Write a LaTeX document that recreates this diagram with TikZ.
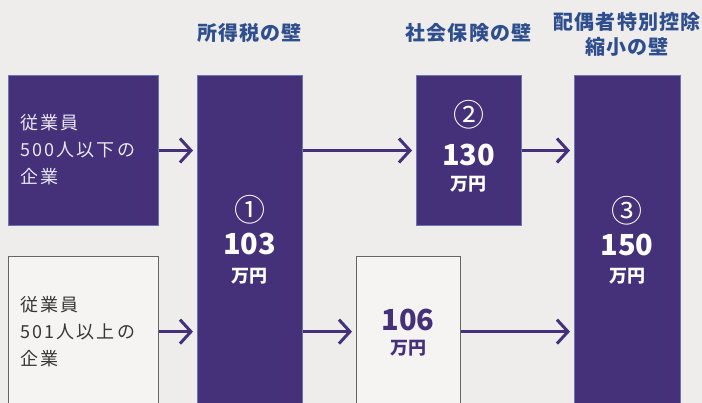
\documentclass[tikz,border=0pt]{standalone}
\usepackage{fontspec}
\setmainfont{Noto Sans CJK JP}
\usetikzlibrary{arrows.meta}
\definecolor{bg}{HTML}{EEEDEC}
\definecolor{purp}{HTML}{45307A}
\definecolor{purpedge}{HTML}{6E74B0}
\definecolor{paper}{HTML}{F5F4F2}
\definecolor{grayedge}{HTML}{666666}
\definecolor{hdrblue}{HTML}{2F4E8E}
\definecolor{lighttxt}{HTML}{E8E6EF}
\definecolor{darktxt}{HTML}{383838}
\tikzset{
  purpbox/.style={draw=purpedge, line width=1pt, fill=purp, inner sep=0pt, anchor=north west},
  paperbox/.style={draw=grayedge, line width=1.3pt, fill=paper, inner sep=0pt, anchor=north west},
  hdr/.style={text=hdrblue, font=\fontsize{20}{25}\selectfont\bfseries\addfontfeature{LetterSpace=6}, align=center, inner sep=0pt},
  boxtxt/.style={font=\fontsize{18}{27}\selectfont\addfontfeature{LetterSpace=12}, align=left, anchor=west, inner sep=0pt},
  circnum/.style={text=white, font=\fontsize{31}{31}\selectfont, inner sep=0pt},
  bignum/.style={font=\fontsize{29}{29}\selectfont\bfseries, inner sep=0pt},
  unit/.style={font=\fontsize{18}{18}\selectfont\bfseries, inner sep=0pt},
  arr/.style={draw=purp, line width=3pt, shorten >=4pt, -{Straight Barb[length=11pt,width=24pt]}}
}
\begin{document}
\begin{tikzpicture}[x=1pt,y=-1pt]
\useasboundingbox (0,0) rectangle (702,403);
\clip (0,0) rectangle (702,403);
\fill[bg] (0,0) rectangle (702,403);
% headers
\node[hdr] (h1) at (249.5,33) {所得税の壁};
\node[hdr] (h2) at (468.5,33) {社会保険の壁};
\node[hdr] (h3) at (627,34) {配偶者特別控除\\縮小の壁};
% boxes
\node[purpbox, minimum width=150pt, minimum height=150pt] (b1) at (8,75) {};
\node[paperbox, minimum width=150pt, minimum height=150pt] (b2) at (8,256) {};
\node[purpbox, minimum width=105pt, minimum height=345pt] (c1) at (197,75) {};
\node[purpbox, minimum width=105pt, minimum height=150pt] (c2) at (416,75) {};
\node[paperbox, minimum width=104pt, minimum height=150pt] (c106) at (356,256) {};
\node[purpbox, minimum width=106pt, minimum height=345pt] (c3) at (574,75) {};
% box texts
\node[boxtxt, text=lighttxt] (t1) at (20,150) {従業員\\500人以下の\\企業};
\node[boxtxt, text=darktxt] (t2) at (20,332) {従業員\\501人以上の\\企業};
% column texts
\node[circnum] (k1) at (249.5,210) {①};
\node[bignum, text=white] (n1) at (249.5,244) {103};
\node[unit, text=white] (u1) at (249.5,276) {万円};
\node[circnum] (k2) at (468.5,115) {②};
\node[bignum, text=white] (n2) at (468.5,155) {130};
\node[unit, text=white] (u2) at (468.5,184) {万円};
\node[circnum] (k3) at (627,211) {③};
\node[bignum, text=white] (n3) at (627,245) {150};
\node[unit, text=white] (u3) at (627,276) {万円};
\node[bignum, text=purp] (n4) at (408,320) {106};
\node[unit, text=purp] (u4) at (408,348) {万円};
% arrows
\draw[arr] (b1.east) -- (c1.west |- b1.east);
\draw[arr] (c1.east |- c2.west) -- (c2.west);
\draw[arr] (c2.east) -- (c3.west |- c2.east);
\draw[arr] (b2.east) -- (c1.west |- b2.east);
\draw[arr] (c1.east |- c106.west) -- (c106.west);
\draw[arr] (c106.east) -- (c3.west |- c106.east);
\end{tikzpicture}
\end{document}
